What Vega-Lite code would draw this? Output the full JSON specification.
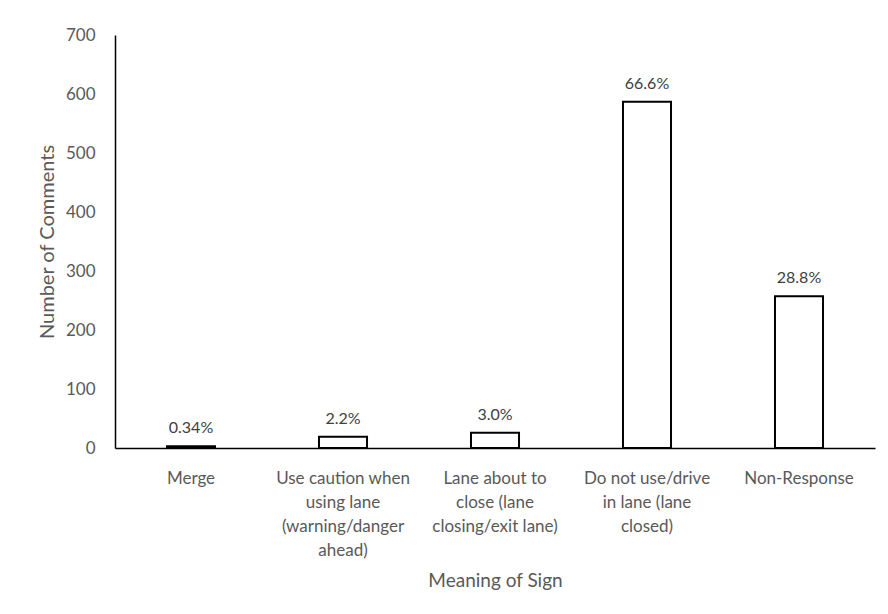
{
  "$schema": "https://vega.github.io/schema/vega-lite/v6.json",
  "width": 760,
  "height": 413,
  "autosize": {"type": "none"},
  "padding": {"left": 115, "top": 35, "right": 13, "bottom": 166},
  "background": "white",
  "config": {
    "view": {"stroke": null},
    "font": "Lato",
    "axis": {"labelFont": "Lato", "titleFont": "Lato", "labelColor": "#595959", "titleColor": "#595959", "titleFontWeight": "normal", "grid": false}
  },
  "data": {
    "values": [
      {"meaning": "Merge", "count": 3, "pct": "0.34%"},
      {"meaning": "Use caution when|using lane|(warning/danger|ahead)", "count": 19, "pct": "2.2%"},
      {"meaning": "Lane about to|close (lane|closing/exit lane)", "count": 26, "pct": "3.0%"},
      {"meaning": "Do not use/drive|in lane (lane|closed)", "count": 587, "pct": "66.6%"},
      {"meaning": "Non-Response", "count": 257, "pct": "28.8%"}
    ]
  },
  "encoding": {
    "x": {
      "field": "meaning",
      "type": "nominal",
      "sort": null,
      "scale": {"paddingInner": 0.684, "paddingOuter": 0.342},
      "axis": {
        "title": "Meaning of Sign",
        "labelAngle": 0,
        "labelExpr": "split(datum.label, '|')",
        "labelFontSize": 17,
        "labelLineHeight": 24,
        "labelPadding": 22,
        "labelLimit": 200,
        "ticks": false,
        "tickSize": 0,
        "domainColor": "#000000",
        "domainWidth": 1.5,
        "titleFontSize": 19,
        "titlePadding": 13
      }
    },
    "y": {
      "field": "count",
      "type": "quantitative",
      "scale": {"domain": [0, 700], "nice": false},
      "axis": {
        "title": "Number of Comments",
        "values": [0, 100, 200, 300, 400, 500, 600, 700],
        "labelFontSize": 17,
        "labelPadding": 20,
        "ticks": false,
        "tickSize": 0,
        "domainColor": "#000000",
        "domainWidth": 1.5,
        "titleFontSize": 20,
        "titlePadding": 8
      }
    }
  },
  "layer": [
    {
      "mark": {"type": "bar", "fill": "white", "stroke": "black", "strokeWidth": 2}
    },
    {
      "mark": {"type": "text", "baseline": "middle", "dy": -18, "fontSize": 16, "color": "#404040"},
      "encoding": {"text": {"field": "pct"}}
    }
  ]
}
